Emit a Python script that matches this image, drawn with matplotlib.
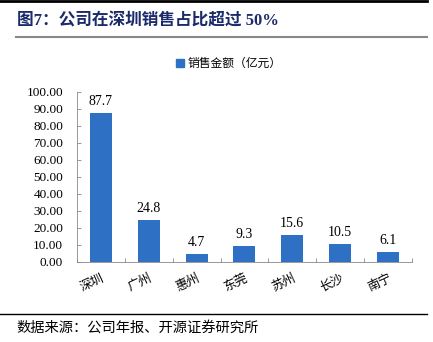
import matplotlib
matplotlib.use('Agg')
import matplotlib.pyplot as plt
from matplotlib.lines import Line2D
import numpy as np

plt.rcParams['font.family'] = ['Noto Sans CJK SC', 'DejaVu Sans']

# Sales by city (100 million yuan)
cities = ['深圳', '广州', '惠州', '东莞', '苏州', '长沙', '南宁']
sales = [87.7, 24.8, 4.7, 9.3, 15.6, 10.5, 6.1]
yticks = [0, 10, 20, 30, 40, 50, 60, 70, 80, 90, 100]

title = '图7：公司在深圳销售占比超过 50%'
legend_label = '销售金额（亿元）'
source = '数据来源：公司年报、开源证券研究所'

bar_color = '#2E70C4'
title_color = '#1B2A6B'

fig = plt.figure(figsize=(4.33, 3.42), dpi=100)
ax = fig.add_axes([0.178, 0.234, 0.773, 0.497])

x = np.arange(len(cities))
ax.bar(x, sales, width=0.46, color=bar_color)
for xi, v in zip(x, sales):
    ax.text(xi, v + 3, '%.1f' % v, ha='center', va='bottom',
            fontsize=10, family='Liberation Serif')

ax.set_xlim(-0.5, len(cities) - 0.5)
ax.set_ylim(0, 100)
ax.set_yticks(yticks)
ax.set_yticklabels(['%.2f' % t for t in yticks], family='Liberation Serif', fontsize=9.5)
ax.tick_params(axis='y', direction='in', length=3, width=0.6, color='#888888', pad=10)

# category boundary ticks on the x axis
ax.set_xticks(np.arange(len(cities) + 1) - 0.5, minor=True)
ax.set_xticks(x)
ax.set_xticklabels(cities, rotation=25, ha='right', va='top', rotation_mode='anchor',
                   fontsize=9)
ax.tick_params(axis='x', which='major', length=0, pad=7)
ax.tick_params(axis='x', which='minor', direction='in', length=3, width=0.6, color='#888888')

for s in ['top', 'right']:
    ax.spines[s].set_visible(False)
ax.spines['left'].set_color('#888888')
ax.spines['bottom'].set_color('#888888')
ax.spines['left'].set_linewidth(0.6)
ax.spines['bottom'].set_linewidth(0.6)

# legend
handle = Line2D([], [], marker='s', linestyle='none', markersize=6,
                markerfacecolor=bar_color, markeredgecolor=bar_color)
fig.legend([handle], [legend_label], loc='center', bbox_to_anchor=(0.527, 0.815),
           frameon=False, fontsize=8.5, handletextpad=0.2, handlelength=0.8)

# header and footer
fig.add_artist(Line2D([0, 0.986], [0.996, 0.996], color='black', lw=2))
fig.text(0.039, 0.938, title, fontsize=12, fontweight='bold', color=title_color,
         va='center', ha='left', family=['Liberation Serif', 'Noto Sans CJK SC'])
fig.add_artist(Line2D([0.037, 0.986], [0.892, 0.892], color='#888888', lw=1.5))
fig.add_artist(Line2D([0.0, 0.986], [0.082, 0.082], color='black', lw=1))
fig.text(0.039, 0.041, source, fontsize=10.3, va='center', ha='left')

plt.savefig('out.png', dpi=100)
